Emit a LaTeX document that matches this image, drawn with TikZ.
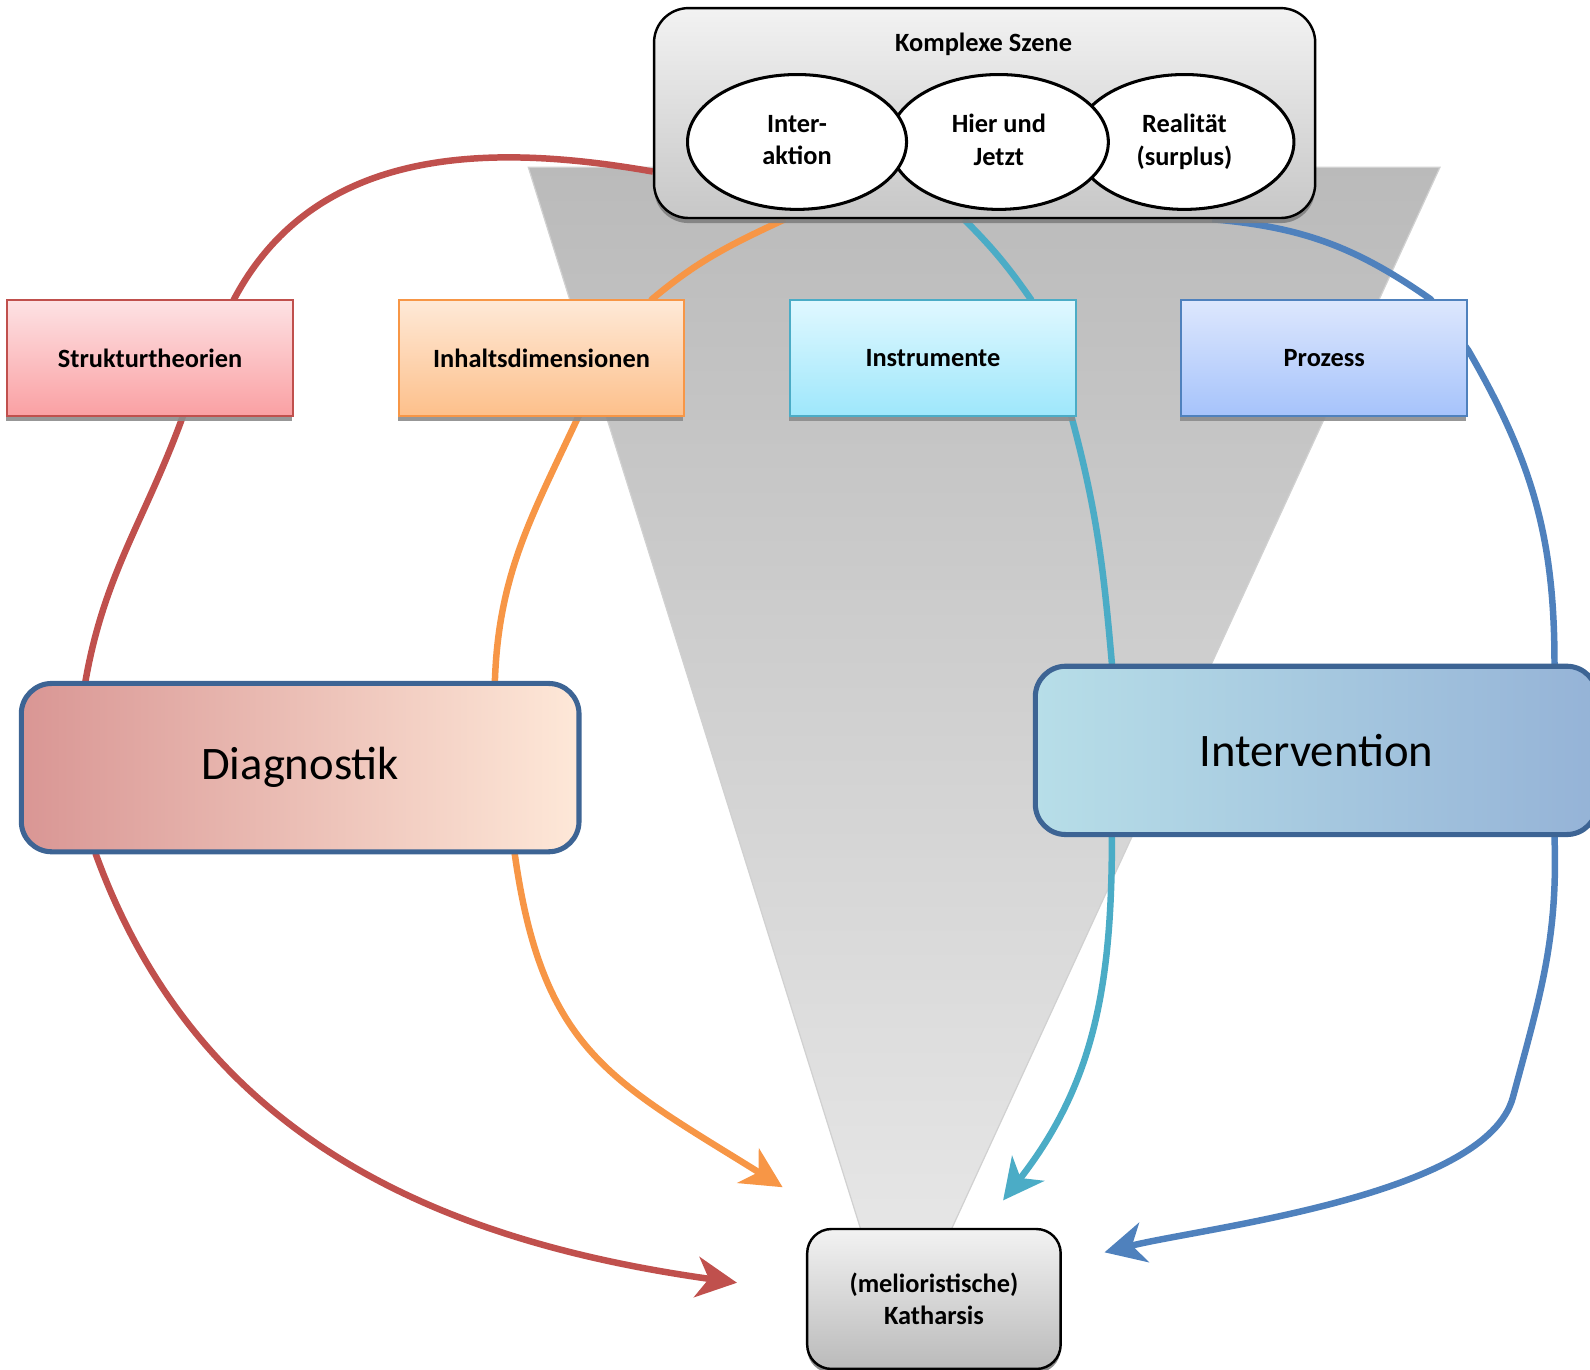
\documentclass[tikz,border=0pt]{standalone}
\usepackage{fontspec}
\setmainfont{Carlito}
\usepackage{tikz}
\usetikzlibrary{arrows.meta, shapes.geometric, shadows}
\pgfdeclarelayer{funnel}
\pgfdeclarelayer{links}
\pgfsetlayers{funnel,links,main}
\definecolor{strukred}{HTML}{C0504D}
\definecolor{inhorange}{HTML}{F79646}
\definecolor{instcyan}{HTML}{4BACC6}
\definecolor{prozblue}{HTML}{4F81BD}
\definecolor{hubframe}{HTML}{3D6494}
\definecolor{strukTop}{HTML}{FDE2E4}
\definecolor{strukBot}{HTML}{FAA0A3}
\definecolor{inhTop}{HTML}{FEE9D7}
\definecolor{inhBot}{HTML}{FDC08B}
\definecolor{instTop}{HTML}{E0F8FF}
\definecolor{instBot}{HTML}{9EE7FB}
\definecolor{prozTop}{HTML}{DDE7FD}
\definecolor{prozBot}{HTML}{A6C3FB}
\definecolor{diagL}{HTML}{D99694}
\definecolor{diagR}{HTML}{FEE8D8}
\definecolor{intL}{HTML}{B7DEE8}
\definecolor{intR}{HTML}{95B3D7}

\begin{document}
\begin{tikzpicture}[x=0.5pt, y=0.5pt,
  themebox/.style={draw, line width=1pt, minimum width=141pt, minimum height=57pt,
    font=\fontsize{13}{16}\selectfont\bfseries,
    drop shadow={shadow xshift=-0.5pt, shadow yshift=-2.5pt, fill=black!45, opacity=0.9}},
  hubbox/.style={draw=hubframe, line width=2.5pt, rounded corners=15pt, minimum height=83pt,
    font=\fontsize{23}{28}\selectfont},
  sceneoval/.style={ellipse, draw, line width=1.5pt, fill=white, minimum width=108pt,
    minimum height=66.5pt, inner sep=0pt, align=center, font=\fontsize{13}{16}\selectfont\bfseries},
  flow/.style={line width=3.2pt, -{Stealth[length=20pt, width=20pt, inset=6pt]}}]
\useasboundingbox (0,0) rectangle (1568,1351);

\node[draw, line width=1.2pt, rounded corners=17pt, minimum width=326pt, minimum height=103.5pt,
  top color=black!5, bottom color=black!22,
  drop shadow={shadow xshift=0pt, shadow yshift=-2.5pt, fill=black!50, opacity=0.9}] (scene) at (971,1239.5) {};
\node[font=\fontsize{13}{16}\selectfont\bfseries] (scenetitle) at (970,1307) {Komplexe Szene};
\node[sceneoval] (real) at (1168,1211) {Realität\\(surplus)\vphantom{g}};
\node[sceneoval] (hier) at (985,1211) {Hier und\\Jetzt\vphantom{g}};
\node[sceneoval] (inter) at (786,1211) {Inter-\\aktion\vphantom{g}};

\node[themebox, draw=strukred, top color=strukTop, bottom color=strukBot] (struk) at (148,998) {Strukturtheorien};
\node[themebox, draw=inhorange, top color=inhTop, bottom color=inhBot] (inhalt) at (534,998) {Inhaltsdimensionen};
\node[themebox, draw=instcyan, top color=instTop, bottom color=instBot] (instr) at (920,998) {Instrumente};
\node[themebox, draw=prozblue, top color=prozTop, bottom color=prozBot] (proz) at (1306,998) {Prozess};

\node[hubbox, minimum width=275pt, left color=diagL, right color=diagR] (diag) at (296,594) {Diagnostik};
\node[hubbox, minimum width=277pt, left color=intL, right color=intR] (interv) at (1298,611) {Intervention};

\node[draw, line width=1.2pt, rounded corners=12pt, minimum width=125pt, minimum height=69pt,
  top color=black!5, bottom color=black!27, align=center, font=\fontsize{13}{16}\selectfont\bfseries,
  drop shadow={shadow xshift=0pt, shadow yshift=-2pt, fill=black!50, opacity=0.9}] (kath) at (921,70) {(melioristische)\\Katharsis};

\coordinate (redtip) at ([xshift=-34pt,yshift=8pt]kath.west);
\coordinate (orangetip) at ([xshift=-11.5pt,yshift=20pt]kath.north west);
\coordinate (cyantip) at ([xshift=-29pt,yshift=13.5pt]kath.north east);
\coordinate (bluetip) at ([xshift=21pt,yshift=23pt]kath.east);
\coordinate (bluekink) at (1492,269);

\begin{pgfonlayer}{funnel}
\shadedraw[draw=black!18, line width=0.6pt, top color=black!27, bottom color=black!8] (521,1186) -- (1420,1186) -- (885,23) -- cycle;
\end{pgfonlayer}

\begin{pgfonlayer}{links}
\draw[flow, strukred] (scene.190) to[out=170,in=62] (struk.35) -- (struk.-61) to[out=-110,in=80] (diag.158) -- (diag.-157) to[out=-70,in=172] (redtip);
\draw[flow, inhorange] (scene.208) to[out=205,in=40] (inhalt.28) -- (inhalt.-58) to[out=-115,in=88] (diag.24) -- (diag.-22) to[out=-82,in=148,looseness=1.2] (orangetip);
\draw[flow, instcyan] (scene.-101) to[out=-45,in=125] (instr.31) -- (instr.-23) to[out=-75,in=95] (interv.157) -- (interv.-157) to[out=-90,in=52] (cyantip);
\draw[flow, prozblue] (scene.-25) to[out=-5,in=145] (proz.29) -- (proz.3) to[out=-60,in=90] (interv.20) -- (interv.-20) to[out=-88,in=75] (bluekink) to[out=-105,in=14,looseness=0.6] (bluetip);
\end{pgfonlayer}
\end{tikzpicture}
\end{document}
